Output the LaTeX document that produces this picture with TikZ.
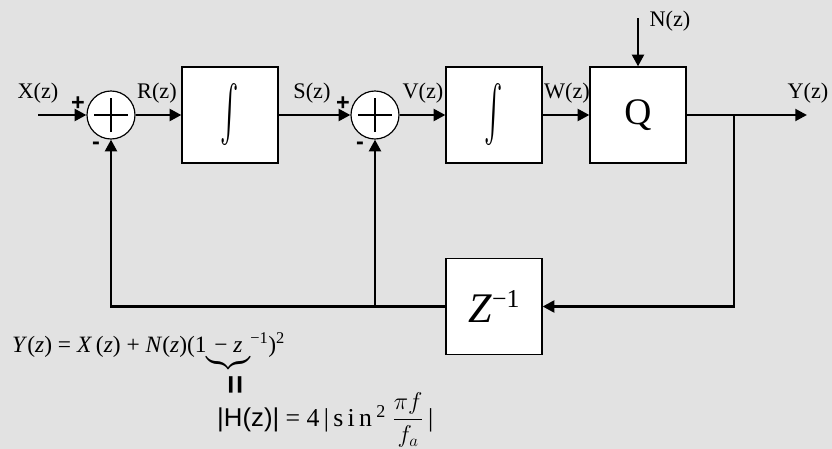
\documentclass[tikz,border=0pt]{standalone}
\usepackage{amsmath}
\usepackage{graphicx}
\usepackage{fontspec}
\setmainfont{Liberation Serif}
\setsansfont{Liberation Sans}
\usetikzlibrary{arrows.meta, positioning}
\definecolor{cmarble}{HTML}{E2E2E2}
\definecolor{cink}{HTML}{000000}
\tikzset{
  every picture/.style={font=\fontsize{19}{21}\selectfont},
  blk/.style={draw=cink, fill=white, line width=1pt, minimum width=2.88cm, minimum height=2.88cm, inner sep=0pt},
  sum/.style={circle, draw=cink, fill=white, line width=1pt, minimum size=1.44cm, inner sep=0pt,
    path picture={\draw[line width=2.4pt] ([xshift=-0.51cm]path picture bounding box.center) -- ([xshift=0.51cm]path picture bounding box.center);
                  \draw[line width=2.4pt] ([yshift=-0.51cm]path picture bounding box.center) -- ([yshift=0.51cm]path picture bounding box.center);}},
  sig/.style={-{Triangle[length=10pt, width=10pt]}, draw=cink, line width=2.4pt},
  wire/.style={draw=cink, line width=2.4pt},
  lbl/.style={inner sep=1pt},
  sgn/.style={inner sep=0pt, font=\sffamily\bfseries\fontsize{20}{20}\selectfont},
  eqn/.style={inner sep=0pt, font=\fontsize{20}{22}\selectfont},
}
\newcommand{\bigint}{\resizebox{0.55cm}{1.35cm}{$\int$}}

\begin{document}
\begin{tikzpicture}[x=0.03cm, y=-0.03cm]
  \fill[cmarble] (0,0) rectangle (832,449);
  \useasboundingbox (0,0) rectangle (832,449);

  % blocks
  \node[sum] (sum1) at (111,115) {};
  \node[sum] (sum2) at (375,115) {};
  \node[blk] (int1) at (230,115) {\bigint};
  \node[blk] (int2) at (494,115) {\bigint};
  \node[blk] (quant) at (638,115) {\fontsize{32}{34}\selectfont Q};
  \node[blk] (delay) at (494,306.5) {\fontsize{36}{38}\selectfont\textit{Z}\raisebox{0.75ex}{\fontsize{22}{24}\selectfont −1}};

  % free ends and corners
  \coordinate (xin) at (38,115);
  \coordinate (yout) at (807,115);
  \coordinate (nin) at (638,18);
  \coordinate (branch) at (734,115);
  \coordinate (fb2) at (375,306.5);

  % signals
  \draw[sig] (xin) -- (sum1);
  \draw[sig] (sum1) -- (int1);
  \draw[sig] (int1) -- (sum2);
  \draw[sig] (sum2) -- (int2);
  \draw[sig] (int2) -- (quant);
  \draw[sig] (nin) -- (quant);
  \draw[sig] (quant) -- (yout);
  \draw[sig] (branch) |- (delay);
  \draw[sig] (delay) -| (sum1);
  \draw[sig] (fb2) -- (sum2);

  % labels
  \node[lbl] (lx) at (38,93) {X(z)};
  \node[lbl] (lr) at (157,93) {R(z)};
  \node[lbl] (ls) at (312,93) {S(z)};
  \node[lbl] (lv) at (423,93) {V(z)};
  \node[lbl] (lw) at (567,93) {W(z)};
  \node[lbl] (ly) at (808,93) {Y(z)};
  \node[lbl] (ln) at (670,21) {N(z)};
  \node[sgn] (p1) at (78,104) {+};
  \node[sgn] (p2) at (343,104) {+};
  \node[sgn] (m1) at (96,146) {-};
  \node[sgn] (m2) at (360,146) {-};

  % transfer
  \node[eqn, anchor=base west] (yeq) at (12,352)
    {\textit{Y}(\textit{z}) = \textit{X}\,(\textit{z}) + \textit{N}(\textit{z})(1$\underbrace{\hbox{\rule[-5pt]{0pt}{1pt}− \textit{z}}}$\textsuperscript{−1})\textsuperscript{2}};
  \node[sgn, rotate=90, font=\sffamily\bfseries\fontsize{28}{28}\selectfont] (eqv) at (238,385) {=};
  \node[eqn, anchor=base west, font=\fontsize{22}{24}\selectfont] (heq) at (217,426)
    {{\sffamily |H(z)|} = 4\,|\,s\,i\,n\,\textsuperscript{2} $\displaystyle\frac{\pi f}{f_a}$\,|};
\end{tikzpicture}
\end{document}
